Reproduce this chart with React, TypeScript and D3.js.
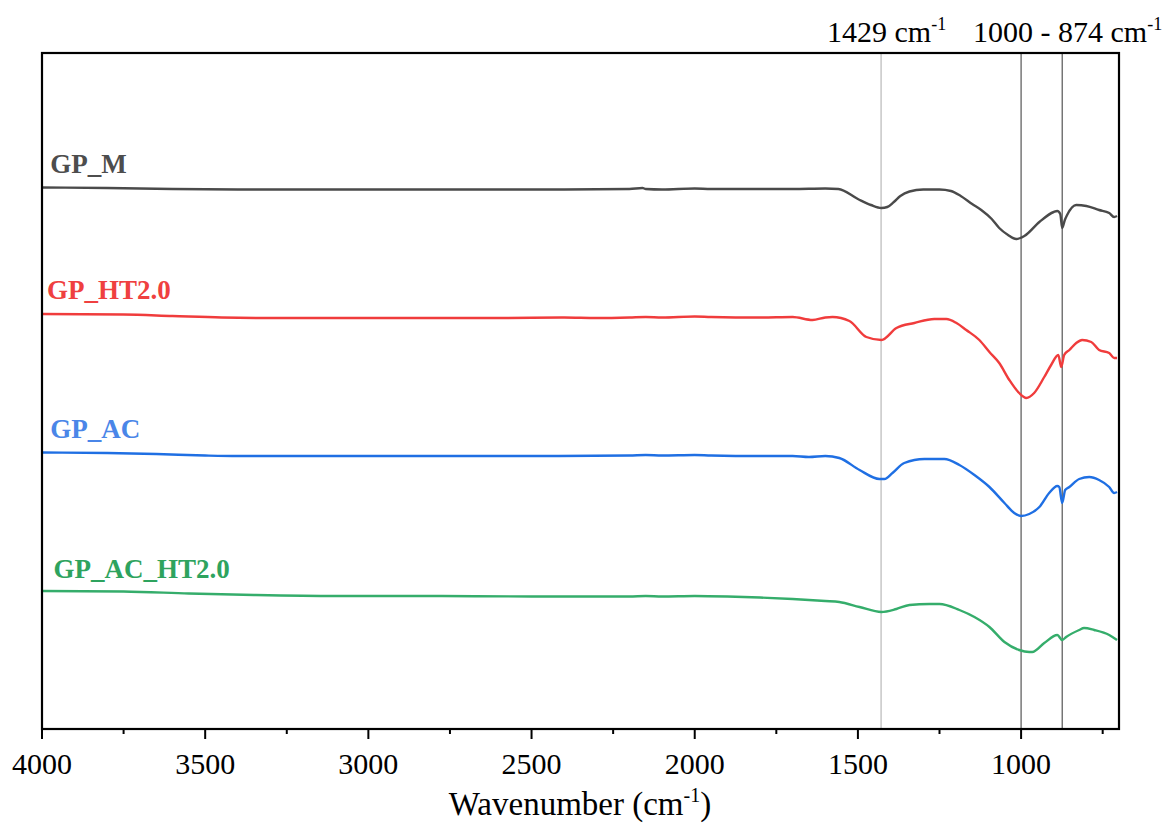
import React from "react";
import * as d3 from "d3";

// ---------- data (wavenumber cm^-1, intensity a.u. with offsets) ----------
const gpM_w = [4000, 3800, 3600, 3400, 3000, 2600, 2400, 2200, 2160, 2150, 2100, 2000, 1950, 1800, 1700, 1600, 1560, 1500, 1460, 1428, 1410, 1390, 1370, 1342, 1300, 1250, 1215, 1185, 1150, 1122, 1090, 1067, 1040, 1015, 990, 944, 900, 889, 880, 874, 866, 859, 831, 800, 761, 730, 715, 706];
const gpM_v = [541.5, 541, 540, 539.5, 539.5, 539.5, 539.5, 540, 541, 540, 539.5, 540.5, 540, 540, 540, 540.5, 540, 530, 524, 521, 522, 527, 533, 537.5, 539.5, 539.5, 538, 533, 525, 519, 510, 501, 494, 490, 493, 507, 517, 518, 515, 501, 509, 514, 524, 523, 519, 516, 512, 513];

const gpHT_w = [4000, 3750, 3600, 3450, 3300, 3000, 2600, 2400, 2300, 2200, 2150, 2100, 2000, 1950, 1800, 1700, 1639, 1600, 1578, 1526, 1474, 1428, 1382, 1327, 1266, 1229, 1198, 1168, 1128, 1097, 1067, 1036, 1006, 984, 960, 929, 908, 886, 877, 868, 852, 831, 813, 785, 761, 730, 715, 706];
const gpHT_v = [415, 414.5, 413, 411.5, 411, 411, 411, 411.5, 411, 411.5, 412, 411.5, 412.5, 412, 411.5, 412, 409, 411.5, 412, 408, 392, 389, 401, 406, 410, 410, 406, 399, 389, 377, 366, 349, 336, 331, 336, 352, 364, 374, 362, 374, 379, 386, 389, 387, 379, 376, 371, 371];

const gpAC_w = [4000, 3800, 3650, 3500, 3400, 3000, 2500, 2200, 2150, 2100, 2000, 1950, 1800, 1700, 1650, 1600, 1557, 1495, 1434, 1419, 1394, 1358, 1296, 1235, 1189, 1143, 1097, 1051, 1021, 1000, 975, 944, 914, 889, 883, 874, 865, 852, 822, 791, 761, 730, 715, 706];
const gpAC_v = [276.5, 276, 275, 273.5, 273, 273, 273, 273.5, 274, 273.5, 274, 273.5, 273, 273, 272, 273, 271, 259, 250, 250, 256, 266, 270, 270, 264, 254, 242, 226, 216, 213, 215, 222, 236, 243, 242, 226, 239, 242, 250, 252, 249, 242, 236, 237];

const gpACHT_w = [4000, 3750, 3550, 3350, 3100, 2800, 2500, 2200, 2150, 2100, 2000, 1900, 1800, 1700, 1600, 1557, 1495, 1428, 1382, 1342, 1281, 1250, 1189, 1143, 1097, 1051, 1006, 975, 966, 929, 889, 874, 862, 822, 807, 776, 730, 706];
const gpACHT_v = [138, 137.5, 135.5, 134, 133, 133, 132.5, 132.5, 133, 132.5, 133, 132.5, 131.5, 130, 128, 127, 122, 117, 120, 124, 125, 125, 119, 112, 102, 87, 79, 77, 77, 86, 94, 89, 92, 99, 101, 99, 94, 89];

const seriesNames = ["GP_M", "GP_HT2.0", "GP_AC", "GP_AC_HT2.0"];
const lineColors = ["#4a4a4a", "#f03c3c", "#1f6fe3", "#35ad6b"];
const labelColors = ["#4d4d4d", "#ef4040", "#4a86e8", "#2ea35e"];
const seriesW = [gpM_w, gpHT_w, gpAC_w, gpACHT_w];
const seriesV = [gpM_v, gpHT_v, gpAC_v, gpACHT_v];
const labelAnchorW = [3975, 3985, 3975, 3965];
const labelV = [556, 430, 291, 151];

const markerW = [1429, 1000, 874];
const markerColors = ["#b8b8b8", "#555555", "#555555"];
const majorTicks = [4000, 3500, 3000, 2500, 2000, 1500, 1000];
const minorTicks = [3750, 3250, 2750, 2250, 1750, 1250, 750];

const W = 1175;
const H = 827;
const M = { left: 42, right: 1119, top: 53, bottom: 729 };

export default function App() {
  const x = d3.scaleLinear().domain([4000, 700]).range([M.left, M.right]);
  const y = d3.scaleLinear().domain([0, 676]).range([M.bottom, M.top]);
  const line = d3
    .line<[number, number]>()
    .x((d) => x(d[0]))
    .y((d) => y(d[1]))
    .curve(d3.curveMonotoneX);
  const font = "'Liberation Serif', 'Times New Roman', serif";

  return (
    <svg
      width={W}
      height={H}
      style={{ position: "absolute", left: 0, top: 0, background: "#fff" }}
      fontFamily={font}
    >
      <rect x={0} y={0} width={W} height={H} fill="#fff" />
      {markerW.map((m, i) => (
        <line
          key={"m" + i}
          x1={x(m)}
          x2={x(m)}
          y1={M.top}
          y2={M.bottom}
          stroke={markerColors[i]}
          strokeWidth={1.2}
        />
      ))}
      {seriesW.map((ws, i) => (
        <path
          key={"s" + i}
          d={line(ws.map((w, j) => [w, seriesV[i][j]] as [number, number])) || ""}
          fill="none"
          stroke={lineColors[i]}
          strokeWidth={2.4}
          strokeLinejoin="round"
        />
      ))}
      {seriesNames.map((n, i) => (
        <text
          key={"l" + i}
          x={x(labelAnchorW[i])}
          y={y(labelV[i])}
          fill={labelColors[i]}
          fontWeight="bold"
          fontSize={27}
        >
          {n}
        </text>
      ))}
      {/* frame */}
      <rect
        x={M.left}
        y={M.top}
        width={M.right - M.left}
        height={M.bottom - M.top}
        fill="none"
        stroke="#000"
        strokeWidth={2.2}
      />
      {majorTicks.map((t) => (
        <g key={"t" + t}>
          <line x1={x(t)} x2={x(t)} y1={M.bottom} y2={M.bottom + 10} stroke="#000" strokeWidth={2} />
          <text x={x(t)} y={774} textAnchor="middle" fontSize={30} fill="#000">
            {t}
          </text>
        </g>
      ))}
      {minorTicks.map((t) => (
        <line key={"n" + t} x1={x(t)} x2={x(t)} y1={M.bottom} y2={M.bottom + 5} stroke="#000" strokeWidth={2} />
      ))}
      <text x={580} y={815} textAnchor="middle" fontSize={33} fill="#000">
        Wavenumber (cm
        <tspan fontSize={20} dy={-13}>-1</tspan>
        <tspan dy={13}>)</tspan>
      </text>
      <text x={827} y={42} fontSize={30} fill="#000">
        1429 cm
        <tspan fontSize={18} dy={-12}>-1</tspan>
      </text>
      <text x={973} y={42} fontSize={30} fill="#000">
        1000 - 874 cm
        <tspan fontSize={18} dy={-12}>-1</tspan>
      </text>
    </svg>
  );
}
